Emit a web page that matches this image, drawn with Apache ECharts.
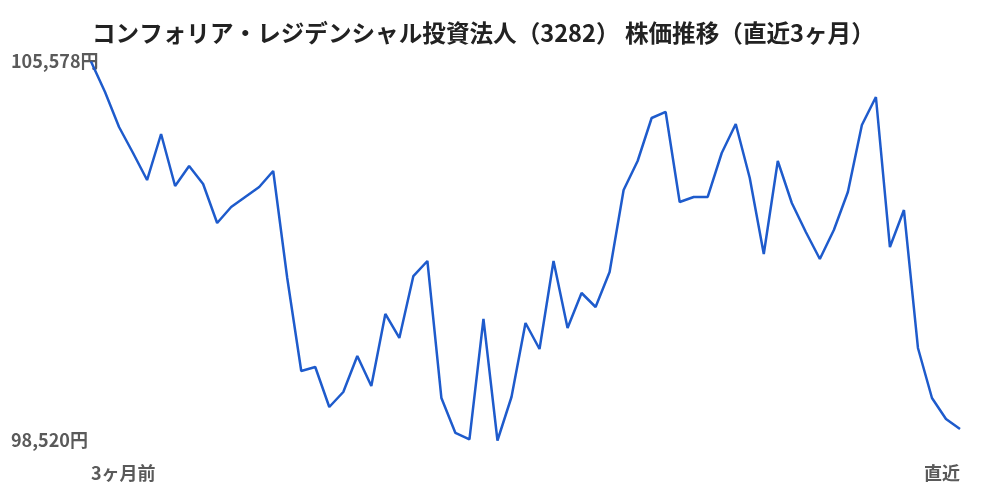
<!DOCTYPE html>
<html>
<head>
<meta charset="utf-8">
<script src="https://cdn.jsdelivr.net/npm/echarts@6/dist/echarts.min.js"></script>
<style>
html,body{margin:0;padding:0;background:#fff;}
#chart{width:1000px;height:500px;}
</style>
</head>
<body>
<div id="chart"></div>
<script>
const titleText = 'コンフォリア・レジデンシャル投資法人（3282） 株価推移（直近3ヶ月）';
const prices = [
  105578, 105010, 104358, 103874, 103371, 104228, 103259, 103632, 103297, 102570,
  102868, 103055, 103241, 103539, 101546, 99814, 99889, 99144, 99423, 100094,
  99535, 100876, 100429, 101583, 101863, 99311, 98660, 98540, 100783, 98520,
  99330, 100708, 100224, 101863, 100615, 101267, 101006, 101658, 103185, 103725,
  104526, 104638, 102961, 103055, 103055, 103874, 104414, 103408, 101993, 103725,
  102943, 102403, 101900, 102440, 103148, 104395, 104917, 102123, 102812, 100243,
  99311, 98920, 98734
];
const categories = prices.map((_, i) => String(i + 1));
const xTickLabels = ['3ヶ月前', '直近'];
const yTickValues = [98520, 105578];

const chart = echarts.init(document.getElementById('chart'));
const font = '"Noto Sans CJK JP", "Noto Sans", sans-serif';
chart.setOption({
  backgroundColor: '#fff',
  animation: false,
  title: {
    text: titleText,
    left: 87,
    top: 16,
    textStyle: { fontFamily: font, fontSize: 23.6, fontWeight: 'bold', color: '#222' }
  },
  grid: { left: 91, right: 40, top: 61.5, bottom: 59.5 },
  xAxis: {
    type: 'category',
    data: categories,
    boundaryGap: false,
    axisLine: { show: false },
    axisTick: { show: false },
    splitLine: { show: false },
    axisLabel: {
      interval: (idx) => idx === 0 || idx === categories.length - 1,
      formatter: (v, idx) => idx === 0 ? xTickLabels[0] : (idx === categories.length - 1 ? xTickLabels[1] : ''),
      alignMinLabel: 'left',
      alignMaxLabel: 'right',
      margin: 24,
      fontFamily: font,
      fontSize: 18,
      fontWeight: 'bold',
      color: '#5a5a5a'
    }
  },
  yAxis: {
    type: 'value',
    min: yTickValues[0],
    max: yTickValues[1],
    axisLine: { show: false },
    axisTick: { show: false },
    splitLine: { show: false },
    axisLabel: {
      customValues: yTickValues,
      align: 'left',
      margin: 80,
      formatter: (v) => Number(v).toLocaleString('en-US') + '円',
      fontFamily: font,
      fontSize: 18,
      fontWeight: 'bold',
      color: '#5a5a5a'
    }
  },
  series: [{
    type: 'line',
    data: prices,
    showSymbol: false,
    symbol: 'none',
    lineStyle: { color: '#1e5bcc', width: 2.5 },
    silent: true
  }]
});
</script>
</body>
</html>
